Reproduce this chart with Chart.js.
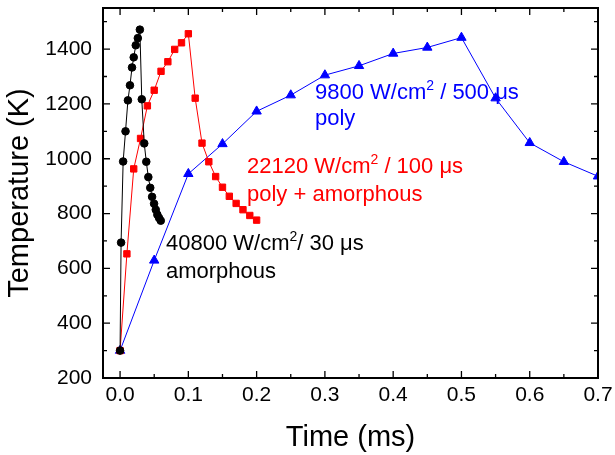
<!DOCTYPE html>
<html>
<head>
<meta charset="utf-8">
<script src="https://cdn.jsdelivr.net/npm/chart.js@4/dist/chart.umd.min.js"></script>
<style>
    html, body { margin: 0; padding: 0; background: #fff; }
    #wrap { width: 615px; height: 455px; }
</style>
</head>
<body>
<div id="wrap"><canvas id="tempChart" width="615" height="455"></canvas></div>
<script>
// --------------------
// Data
// --------------------
const timeBlack = [0, 0.0015, 0.0045, 0.008, 0.0115, 0.0145, 0.0175, 0.020, 0.023, 0.026, 0.029,
                   0.0318, 0.0354, 0.0384, 0.0414, 0.0442, 0.0469, 0.0498, 0.0523, 0.0546, 0.0571, 0.0596];
const tempBlack = [300, 694, 990, 1100, 1213, 1268, 1333, 1370, 1414, 1440, 1471,
                   1217, 1056, 989, 933, 894, 861, 836, 814, 796, 784, 774];

const timeRed = [0, 0.01, 0.02, 0.03, 0.04, 0.05, 0.06, 0.07, 0.08, 0.09, 0.10,
                 0.11, 0.12, 0.13, 0.14, 0.15, 0.16, 0.17, 0.18, 0.19, 0.20];
const tempRed = [300, 653, 963, 1074, 1193, 1250, 1319, 1354, 1399, 1423, 1456,
                 1221, 1057, 989, 935, 896, 863, 837, 814, 793, 776];

const timeBlue = [0, 0.05, 0.10, 0.15, 0.20, 0.25, 0.30, 0.35, 0.40, 0.45, 0.50, 0.55, 0.60, 0.65, 0.70];
const tempBlue = [300, 629, 945, 1054, 1173, 1232, 1305, 1339, 1384, 1406, 1442, 1221, 1058, 989, 936];

const xTickValues = [0, 0.1, 0.2, 0.3, 0.4, 0.5, 0.6, 0.7];
const xMinorValues = [0.05, 0.15, 0.25, 0.35, 0.45, 0.55, 0.65];
const yTickValues = [200, 400, 600, 800, 1000, 1200, 1400];
const yMinorValues = [300, 500, 700, 900, 1100, 1300, 1500];

const FONT = '"Liberation Sans", Arial, sans-serif';

function toPoints(xs, ys) {
    return xs.map((x, i) => ({ x: x, y: ys[i] }));
}

// --------------------
// Frame with inward ticks on all four sides
// --------------------
function drawFrame(chart) {
    const c = chart.ctx;
    const a = chart.chartArea;
    const xs = chart.scales.x;
    const ys = chart.scales.y;
    c.save();
    c.strokeStyle = '#000000';
    c.lineWidth = 2;
    c.beginPath();
    c.rect(a.left, a.top, a.right - a.left, a.bottom - a.top);
    c.stroke();
    c.lineWidth = 1.3;
    c.beginPath();
    xTickValues.concat(xMinorValues).forEach((v, i) => {
        const len = i < xTickValues.length ? 7 : 4;
        const px = xs.getPixelForValue(v);
        c.moveTo(px, a.bottom); c.lineTo(px, a.bottom - len);
        c.moveTo(px, a.top); c.lineTo(px, a.top + len);
    });
    yTickValues.concat(yMinorValues).forEach((v, i) => {
        const len = i < yTickValues.length ? 7 : 4;
        const py = ys.getPixelForValue(v);
        c.moveTo(a.left, py); c.lineTo(a.left + len, py);
        c.moveTo(a.right, py); c.lineTo(a.right - len, py);
    });
    c.stroke();
    c.restore();
}

// --------------------
// Series labels (with superscript)
// --------------------
function drawRich(c, x, y, parts, color) {
    c.fillStyle = color;
    c.textBaseline = 'alphabetic';
    c.textAlign = 'left';
    parts.forEach(p => {
        if (p.sup) {
            c.font = '14px ' + FONT;
            c.fillText(p.t, x, y - 9);
        } else {
            c.font = '22px ' + FONT;
            c.fillText(p.t, x, y);
        }
        x += c.measureText(p.t).width;
    });
}

const decorPlugin = {
    id: 'decor',
    afterDatasetsDraw(chart) {
        const c = chart.ctx;
        c.save();
        drawRich(c, 315, 99, [{ t: '9800 W/cm' }, { t: '2', sup: true }, { t: ' / 500 \u03bcs' }], '#0000ff');
        drawRich(c, 315, 125, [{ t: 'poly' }], '#0000ff');
        drawRich(c, 247, 173, [{ t: '22120 W/cm' }, { t: '2', sup: true }, { t: ' / 100 \u03bcs' }], '#ff0000');
        drawRich(c, 247, 201, [{ t: 'poly + amorphous' }], '#ff0000');
        drawRich(c, 166, 250, [{ t: '40800 W/cm' }, { t: '2', sup: true }, { t: '/ 30 \u03bcs' }], '#000000');
        drawRich(c, 166, 278, [{ t: 'amorphous' }], '#000000');
        c.restore();
        drawFrame(chart);
    }
};

// --------------------
// Chart
// --------------------
const ctx = document.getElementById('tempChart').getContext('2d');

new Chart(ctx, {
    type: 'line',
    data: {
        datasets: [
            {
                label: '40800 W/cm2 / 30 us',
                data: toPoints(timeBlack, tempBlack),
                borderColor: '#000000',
                backgroundColor: '#000000',
                borderWidth: 1,
                pointStyle: 'circle',
                pointRadius: 3.8,
                pointBorderWidth: 1,
                order: 0
            },
            {
                label: '22120 W/cm2 / 100 us',
                data: toPoints(timeRed, tempRed),
                borderColor: '#ff0000',
                backgroundColor: '#ff0000',
                borderWidth: 1,
                pointStyle: 'rect',
                pointRadius: 4.5,
                pointBorderWidth: 1,
                order: 1
            },
            {
                label: '9800 W/cm2 / 500 us',
                data: toPoints(timeBlue, tempBlue),
                borderColor: '#0000ff',
                backgroundColor: '#0000ff',
                borderWidth: 1,
                pointStyle: 'triangle',
                pointRadius: 5.4,
                pointBorderWidth: 1,
                order: 2
            }
        ]
    },
    options: {
        responsive: false,
        animation: false,
        layout: { padding: { left: 0, right: 17, top: 8, bottom: 0 } },
        plugins: {
            legend: { display: false },
            tooltip: { enabled: false }
        },
        scales: {
            x: {
                type: 'linear',
                min: -0.025,
                max: 0.7,
                grid: { display: false, drawTicks: false },
                border: { display: false },
                afterBuildTicks: s => { s.ticks = xTickValues.map(v => ({ value: v })); },
                afterFit: s => { s.height = 77; s.paddingLeft = 0; s.paddingRight = 0; },
                ticks: {
                    color: '#000',
                    padding: 5,
                    maxRotation: 0,
                    font: { family: FONT, size: 21 },
                    callback: v => v.toFixed(1)
                },
                title: {
                    display: true,
                    text: 'Time (ms)',
                    color: '#000',
                    padding: { top: 0, bottom: 0 },
                    font: { family: FONT, size: 29 }
                }
            },
            y: {
                type: 'linear',
                min: 200,
                max: 1550,
                grid: { display: false, drawTicks: false },
                border: { display: false },
                afterBuildTicks: s => { s.ticks = yTickValues.map(v => ({ value: v })); },
                afterFit: s => { s.width = 103; s.paddingTop = 0; s.paddingBottom = 0; },
                ticks: {
                    color: '#000',
                    padding: 11,
                    font: { family: FONT, size: 21 },
                    callback: v => String(v)
                },
                title: {
                    display: true,
                    text: 'Temperature (K)',
                    color: '#000',
                    padding: { top: 2.6, bottom: 0 },
                    font: { family: FONT, size: 29 }
                }
            }
        }
    },
    plugins: [decorPlugin]
});
</script>
</body>
</html>
